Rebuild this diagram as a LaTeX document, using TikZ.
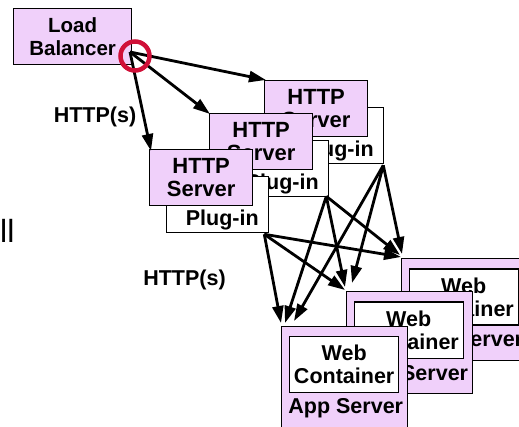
\documentclass[tikz,border=0pt]{standalone}
\usepackage{fontspec}
\setmainfont{Liberation Sans}
\usetikzlibrary{arrows.meta}
\definecolor{lilac}{RGB}{240,208,250}
\definecolor{ringred}{RGB}{208,16,56}
\tikzset{
  boxbase/.style={draw=black, line width=1.3pt, inner sep=0pt, anchor=north west, align=center},
  lbbox/.style={boxbase, fill=lilac, minimum width=118pt, minimum height=56pt,
    font=\bfseries\fontsize{20.5}{23}\selectfont},
  httpbox/.style={boxbase, fill=lilac, minimum width=103pt, minimum height=56pt,
    font=\bfseries\fontsize{22}{23}\selectfont},
  plugbox/.style={boxbase, fill=white, minimum width=102pt, minimum height=56pt},
  appbox/.style={boxbase, fill=lilac, minimum width=126pt, minimum height=102pt},
  webbox/.style={boxbase, fill=white, minimum width=109pt, minimum height=56pt,
    font=\bfseries\fontsize{21.5}{23}\selectfont},
  lbl/.style={inner sep=0pt, anchor=base, font=\bfseries\fontsize{21.5}{23}\selectfont},
  conn/.style={line width=2.8pt, -{Triangle[length=17pt,width=11pt]}},
}
\begin{document}
\begin{tikzpicture}[x=1pt,y=-1pt]
\useasboundingbox (0,0) rectangle (519,427);
\clip (0,0) rectangle (519,427);

% cut-off label on the left edge
\node[inner sep=0pt, anchor=base west, font=\fontsize{32}{32}\selectfont] (edge) at (0,243) {ll};

% load balancer
\node[lbbox] (lb) at (13,8) {Load\\Balancer};
\coordinate (hub) at (130,52);

% HTTP servers with plug-ins, back to front
\node[plugbox] (p3) at (281,107) {};
\node[lbl] (p3t) at ([shift={(-47,-8)}]p3.south east) {Plug-in};
\node[httpbox] (s3) at (264,80) {HTTP\\Server};

\node[plugbox] (p2) at (226,140) {};
\node[lbl] (p2t) at ([shift={(-47,-8)}]p2.south east) {Plug-in};
\node[httpbox] (s2) at (209,113) {HTTP\\Server};

\node[plugbox] (p1) at (166,176) {};
\node[lbl] (p1t) at ([shift={(-47,-8)}]p1.south east) {Plug-in};
\node[httpbox] (s1) at (149,149) {HTTP\\Server};

% application servers, back to front
\node[appbox] (a3) at (401,258) {};
\node[webbox] (w3) at ([shift={(7.5,10.5)}]a3.north west) {Web\\Container};
\node[lbl, anchor=base east] (a3t) at ([shift={(-5,88)}]a3.north east) {App Server};

\node[appbox] (a2) at (346,291) {};
\node[webbox] (w2) at ([shift={(7.5,10.5)}]a2.north west) {Web\\Container};
\node[lbl, anchor=base east] (a2t) at ([shift={(-5,89)}]a2.north east) {App Server};

\node[appbox] (a1) at (281,326) {};
\node[webbox] (w1) at ([shift={(8,10)}]a1.north west) {Web\\Container};
\node[lbl, anchor=base east] (a1t) at ([shift={(-5,87)}]a1.north east) {App Server};

% protocol labels
\node[lbl] (h1) at (95,123) {HTTP(s)};
\node[lbl] (h2) at (184.5,286) {HTTP(s)};

% load balancer to HTTP servers
\draw[conn] (hub) -- ([shift={(2,2)}]s1.north west);
\draw[conn] (hub) -- ([shift={(1,1)}]s2.north west);
\draw[conn] (hub) -- ([shift={(2,0)}]s3.north west);

% plug-ins to application servers
\coordinate (o1) at ([shift={(-5,1)}]p1.south east);
\coordinate (o2) at ([shift={(-3,-1)}]p2.south east);
\coordinate (o3) at ([shift={(-1,1)}]p3.south east);

\draw[conn] (o1) -- ([shift={(0,-3)}]a1.north west);
\draw[conn] (o1) -- ([shift={(-1,-1)}]a2.north west);
\draw[conn] (o1) -- ([shift={(0,-1)}]a3.north west);

\draw[conn] (o2) -- ([shift={(4,-3)}]a1.north west);
\draw[conn] (o2) -- ([shift={(-1,-4)}]a2.north west);
\draw[conn] (o2) -- ([shift={(-1,-3)}]a3.north west);

\draw[conn] (o3) -- ([shift={(13,-5)}]a1.north west);
\draw[conn] (o3) -- ([shift={(6,-8)}]a2.north west);
\draw[conn] (o3) -- ([shift={(1,-4)}]a3.north west);

% highlight ring on the balancer's outlet
\node[circle, draw=ringred, line width=4.5pt, minimum size=29pt, inner sep=0pt] (ring) at (135,56) {};
\end{tikzpicture}
\end{document}
